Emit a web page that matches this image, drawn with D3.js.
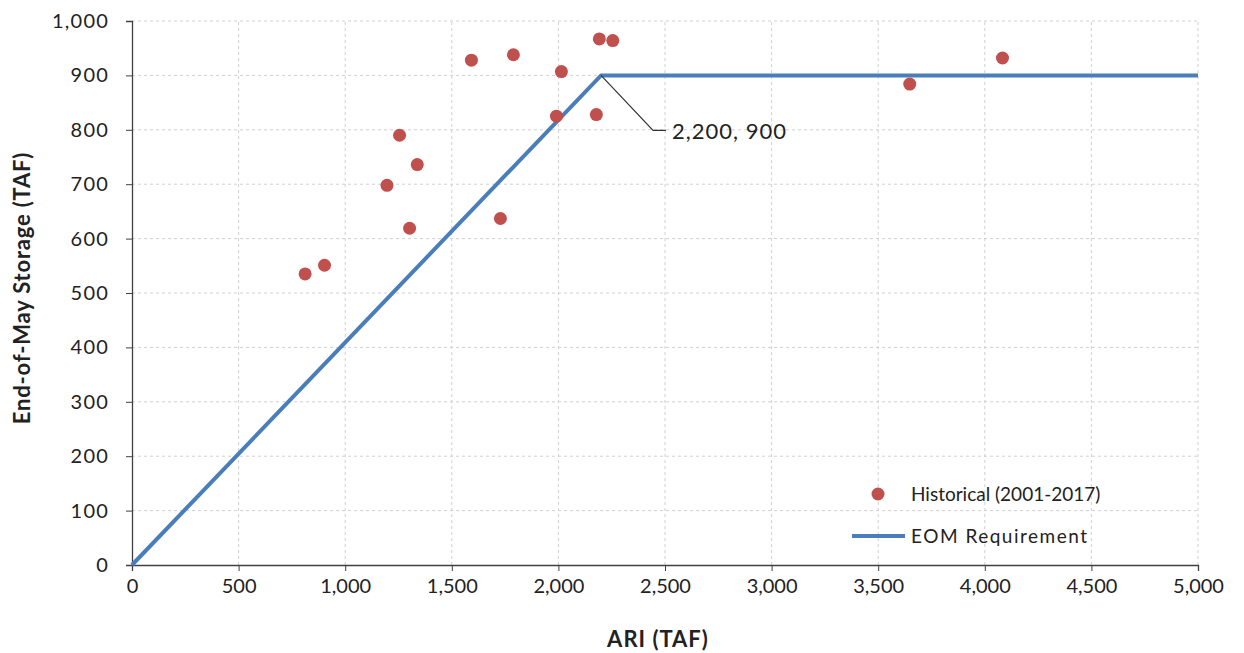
<!DOCTYPE html>
<html>
<head>
<meta charset="utf-8">
<script src="https://cdn.jsdelivr.net/npm/d3@7"></script>
<style>
  body { margin: 0; background: #fff; }
  svg text { font-family: Lato, "Open Sans", sans-serif; fill: #222; }
</style>
</head>
<body>
<svg id="chart" width="1244" height="653"></svg>
<script>
// historical points (ARI, end-of-May storage)
var ari = [812, 903, 1196, 1255, 1302, 1338, 1592, 1728, 1789, 1991, 2014, 2178, 2192, 2255, 3648, 4083];
var storage = [535, 551, 698, 790, 619, 736, 928, 637, 938, 825, 907, 828, 967, 964, 884, 932];

// EOM requirement line
var reqX = [0, 2200, 5000];
var reqY = [0, 900, 900];

var xTicks = [0, 500, 1000, 1500, 2000, 2500, 3000, 3500, 4000, 4500, 5000];
var yTicks = [0, 100, 200, 300, 400, 500, 600, 700, 800, 900, 1000];

var svg = d3.select("#chart");
var x = d3.scaleLinear().domain([0, 5000]).range([132, 1198]);
var y = d3.scaleLinear().domain([0, 1000]).range([565, 21]);
var fmt = d3.format(",");

// grid
svg.append("g").selectAll("line").data(xTicks.slice(1)).join("line")
  .attr("x1", d => x(d)).attr("x2", d => x(d))
  .attr("y1", y(0)).attr("y2", y(1000))
  .attr("stroke", "#d0d0d0").attr("stroke-dasharray", "3,3");
svg.append("g").selectAll("line").data(yTicks.slice(1)).join("line")
  .attr("x1", x(0)).attr("x2", x(5000))
  .attr("y1", d => y(d)).attr("y2", d => y(d))
  .attr("stroke", "#d0d0d0").attr("stroke-dasharray", "3,3");

// axes
var xAxis = svg.append("g").attr("transform", "translate(0," + y(0) + ")")
  .call(d3.axisBottom(x).tickValues(xTicks).tickFormat(fmt).tickSize(6).tickPadding(8));
var yAxis = svg.append("g").attr("transform", "translate(" + x(0) + ",0)")
  .call(d3.axisLeft(y).tickValues(yTicks).tickFormat(fmt).tickSize(6).tickPadding(17));
[xAxis, yAxis].forEach(function(a){
  a.select(".domain").attr("stroke", "#404040").attr("stroke-width", 1.3);
  a.selectAll(".tick line").attr("stroke", "#404040");
  a.selectAll("text").attr("font-size", 20).attr("font-family", "Lato, sans-serif").attr("fill", "#222");
});
yAxis.selectAll("text").attr("letter-spacing", 1.2);

// requirement line
var reqData = reqX.map((d, i) => [d, reqY[i]]);
svg.append("path")
  .attr("d", d3.line().x(d => x(d[0])).y(d => y(d[1]))(reqData))
  .attr("fill", "none").attr("stroke", "#4a7ebb").attr("stroke-width", 4);

// annotation
svg.append("polyline")
  .attr("points", [[x(2200), y(900)], [x(2200) + 52, y(900) + 55], [x(2200) + 65, y(900) + 55]].join(" "))
  .attr("fill", "none").attr("stroke", "#333").attr("stroke-width", 1.2);
svg.append("text")
  .attr("x", x(2200) + 71).attr("y", y(900) + 64)
  .attr("font-size", 22).attr("letter-spacing", 1).text("2,200, 900");

// historical points
svg.append("g").selectAll("circle").data(ari).join("circle")
  .attr("cx", d => x(d))
  .attr("cy", (d, i) => y(storage[i]))
  .attr("r", 6.5)
  .attr("fill", "#c0504d");

// legend
svg.append("circle").attr("cx", 878).attr("cy", 494).attr("r", 6.5).attr("fill", "#c0504d");
svg.append("text").attr("x", 911).attr("y", 501).attr("font-size", 19).text("Historical (2001-2017)");
svg.append("line").attr("x1", 852).attr("x2", 905).attr("y1", 536).attr("y2", 536)
  .attr("stroke", "#4a7ebb").attr("stroke-width", 4);
svg.append("text").attr("x", 911).attr("y", 543).attr("font-size", 19).attr("letter-spacing", 1.5).text("EOM Requirement");

// axis titles
svg.append("text").attr("x", 658).attr("y", 647).attr("text-anchor", "middle")
  .attr("font-size", 22).attr("font-weight", "bold").attr("letter-spacing", 1).text("ARI (TAF)");
svg.append("text").attr("transform", "translate(30,288) rotate(-90)").attr("text-anchor", "middle")
  .attr("font-size", 22).attr("font-weight", "bold").attr("letter-spacing", 0.8).text("End-of-May Storage (TAF)");
</script>
</body>
</html>
